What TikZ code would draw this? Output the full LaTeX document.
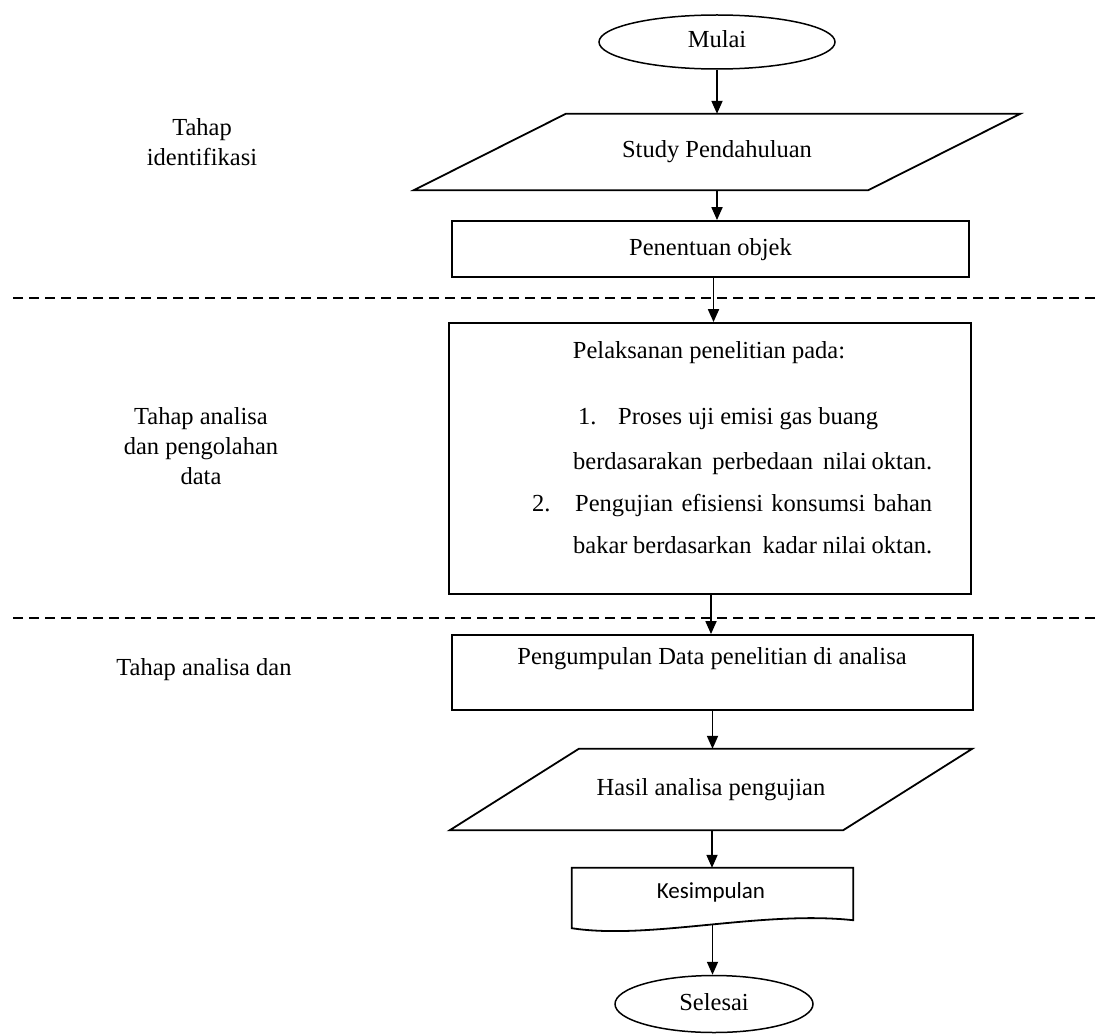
\documentclass[tikz,border=0pt]{standalone}
\usepackage{fontspec}
\setmainfont{Liberation Serif}
\newfontfamily\calib{Carlito}
\usetikzlibrary{shapes.geometric,arrows.meta,calc}
\tikzset{
  box/.style={draw, line width=1.8pt, inner sep=0pt},
  term/.style={draw, ellipse, line width=1.5pt, inner sep=0pt, font=\fontsize{24.5}{30}\selectfont, text height=17pt, text depth=5pt},
  plain/.style={inner sep=0pt, font=\fontsize{24.5}{30}\selectfont, text height=17pt, text depth=5pt},
  outline/.style={line width=1.8pt, line join=miter},
  arr/.style={line width=1.8pt, -{Triangle[length=13pt,width=11pt]}},
  sep/.style={line width=1.5pt, dash pattern=on 10pt off 6pt},
  lbl/.style={font=\fontsize{24.5}{30}\selectfont, align=center, inner sep=0pt}
}
\begin{document}
\begin{tikzpicture}[x=1pt,y=-1pt]
\useasboundingbox (0,0) rectangle (1099,1035);
\fill[white] (0,0) rectangle (1099,1035);

% left phase labels
\node[lbl] (l1) at (202,142) {Tahap\\identifikasi};
\node[lbl] (l2) at (201,446) {Tahap analisa\\dan pengolahan\\data};
\node[lbl] (l3) at (204,670) {Tahap analisa dan};

% separators
\coordinate (d1a) at (13,298); \coordinate (d1b) at (1099,298);
\coordinate (d2a) at (13,618); \coordinate (d2b) at (1099,618);
\draw[sep] (d1a) -- (d1b);
\draw[sep] (d2a) -- (d2b);

% start
\node[term, minimum width=236pt, minimum height=54pt] (mulai) at (717,42) {Mulai};

% study (parallelogram)
\node[plain, minimum width=454pt, minimum height=76pt] (study) at (717,152) {Study Pendahuluan};
\draw[outline] ($(study.north west)+(76,0)$) -- ($(study.north east)+(76,0)$) -- ($(study.south east)+(-76,0)$) -- ($(study.south west)+(-76,0)$) -- cycle;

% penentuan
\node[box, plain, draw, line width=1.8pt, minimum width=517pt, minimum height=56pt] (pen) at (710.5,249) {Penentuan objek};

% big box
\node[box, minimum width=522pt, minimum height=271pt] (big) at (710,458.5) {};
\node[plain] (t0) at (709,352) {Pelaksanan penelitian pada:};
\node[plain, anchor=west] (n1) at (578,418) {1.};
\node[plain, anchor=west] (t1) at (618,418) {Proses uji emisi gas buang};
\node[plain, anchor=west] (t2) at (573,463) {\makebox[359pt][s]{berdasarakan\ \ perbedaan\ \ nilai oktan.}};
\node[plain, anchor=west] (n2) at (532,505) {2.};
\node[plain, anchor=west] (t3) at (575,505) {\makebox[357pt][s]{Pengujian efisiensi konsumsi bahan}};
\node[plain, anchor=west] (t4) at (573,547) {\makebox[359pt][s]{bakar berdasarkan\ \ kadar nilai oktan.}};

% pengumpulan
\node[box, minimum width=521pt, minimum height=75pt] (peng) at (712.5,672.5) {};
\node[plain] (tp) at (712,658) {Pengumpulan Data penelitian di analisa};

% hasil (parallelogram)
\node[plain, minimum width=393pt, minimum height=81pt] (hasil) at (711,789.5) {Hasil analisa pengujian};
\draw[outline] ($(hasil.north west)+(64.5,0)$) -- ($(hasil.north east)+(64.5,0)$) -- ($(hasil.south east)+(-64.5,0)$) -- ($(hasil.south west)+(-64.5,0)$) -- cycle;

% kesimpulan (document)
\node[inner sep=0pt, minimum width=281pt, minimum height=60pt] (kes) at (712.5,898) {};
\node[inner sep=0pt, font=\calib\fontsize{23}{28}\selectfont] (tk) at (711,892) {Kesimpulan};
\draw[outline] (kes.north west) -- (kes.north east) -- ($(kes.south east)+(0,-8)$) .. controls ($(kes.south east)+(-93,-18)$) and ($(kes.south west)+(78,12)$) .. (kes.south west) -- cycle;

% end
\node[term, minimum width=198pt, minimum height=57pt] (sel) at (714,1004) {Selesai};

% connectors
\draw[arr] (mulai.south) -- (mulai.south |- study.north);
\draw[arr] (study.south) -- (study.south |- pen.north);
\draw[arr] ([xshift=3pt]pen.south) -- ([xshift=3pt]pen.south |- big.north);
\draw[arr] ([xshift=1pt]big.south) -- ([xshift=1pt]big.south |- peng.north);
\draw[arr] (peng.south) -- (peng.south |- hasil.north);
\draw[arr] ([xshift=1pt]hasil.south) -- ([xshift=1pt]hasil.south |- kes.north);
\draw[arr] ($(kes.south)+(0,-3)$) -- (kes.south |- sel.north);
\end{tikzpicture}
\end{document}
